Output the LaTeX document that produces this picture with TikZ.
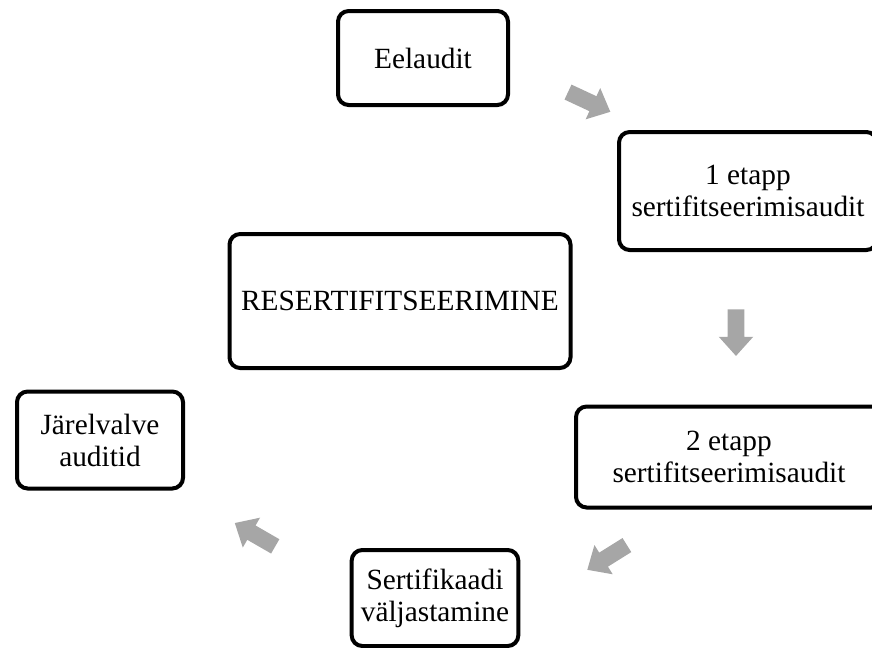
\documentclass[tikz,border=0pt]{standalone}
\usepackage{fontspec}
\setmainfont{Liberation Serif}
\usetikzlibrary{shapes.arrows}
\definecolor{arrowgray}{RGB}{166,166,166}

\tikzset{
  stagebox/.style={draw=black, line width=3pt, rounded corners=8pt, fill=white,
    align=center, inner sep=0pt, font=\fontsize{22}{24}\selectfont},
  cyclearrow/.style={single arrow, fill=arrowgray, draw=none, inner xsep=0pt, inner ysep=6pt,
    minimum height=35pt, single arrow head extend=6.75pt,
    single arrow tip angle=84}
}

\begin{document}
\begin{tikzpicture}[x=0.75pt,y=0.75pt,yscale=-1,xscale=1]
\clip (0,0) rectangle (872,647);

% Stages
\node [stagebox, minimum width=127.5pt, minimum height=70.5pt] (pre) at (423,58) {Eelaudit};
\node [stagebox, minimum width=193.5pt, minimum height=88.5pt] (e1) at (748,191) {1 etapp\\sertifitseerimisaudit};
\node [stagebox, minimum width=255.75pt, minimum height=100.5pt] (res) at (400,301) {RESERTIFITSEERIMINE};
\node [stagebox, minimum width=124.5pt, minimum height=72.75pt] (jar) at (100,440) {Järelvalve\\auditid};
\node [stagebox, minimum width=229.5pt, minimum height=75.75pt] (e2) at (729,457) {2 etapp\\sertifitseerimisaudit};
\node [stagebox, minimum width=125pt, minimum height=72pt] (sert) at (435,598) {Sertifikaadi\\väljastamine};

% Block arrows
\node [cyclearrow, rotate=-25] (a1) at (585,100) {};
\node [cyclearrow, rotate=-90] (a2) at (736,328) {};
\node [cyclearrow, rotate=212] (a3) at (611,555) {};
\node [cyclearrow, rotate=150] (a4) at (259,537) {};

\end{tikzpicture}
\end{document}
